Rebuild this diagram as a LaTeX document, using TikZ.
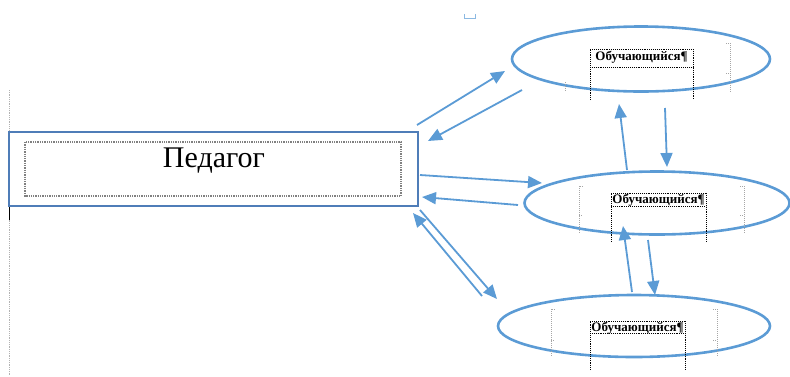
\documentclass[tikz,border=0pt]{standalone}
\usepackage{fontspec}
\setmainfont{Liberation Serif}
\usetikzlibrary{arrows.meta,shapes.geometric}
\definecolor{ablue}{HTML}{5B9BD5}
\definecolor{rblue}{HTML}{4F7DB8}
\begin{document}
\begin{tikzpicture}[x=1pt,y=-1pt,
 conn/.style={draw=ablue, line width=1.8pt, -{Triangle[length=14pt,width=12pt]}},
 oval/.style={ellipse, draw=ablue, line width=2.6pt, inner sep=0pt},
 lbl/.style={font=\bfseries\fontsize{13}{14}\selectfont, inner sep=0.5pt},
 dotbox/.style={draw=black, densely dotted, line width=0.9pt},
 brk/.style={draw=gray!70, densely dotted, line width=1pt}]
\useasboundingbox (0,0) rectangle (790,376);
% left margin line
\draw[gray!60, densely dotted, line width=0.8pt] (9.5,90) -- (9.5,376);
\draw[brown!70!black, line width=1.5pt] (9.5,187) -- (9.5,207);
\draw[black, line width=1.5pt] (9.5,207) -- (9.5,220);
% small mark
\draw[ablue!70, line width=1pt] (464,14) -- (464,18) -- (475,18) -- (475,14);
% teacher box
\node[draw=rblue, line width=2pt, minimum width=409pt, minimum height=74pt, inner sep=0pt] (ped) at (213.5,169) {};
\draw[gray, densely dotted, line width=1.3pt] (25,142) rectangle (401,196);
\node[font=\fontsize{30}{32}\selectfont, anchor=base, inner sep=0pt] (pedtxt) at (214,167.5) {Педагог};
% ellipses
\node[oval, minimum width=258pt, minimum height=65pt] (e1) at (641,59) {};
\node[oval, minimum width=265pt, minimum height=63pt] (e2) at (657,203) {};
\node[oval, minimum width=272pt, minimum height=62pt] (e3) at (634,326) {};
% label frames
\draw[dotbox] (590,100) -- (590,49) -- (693,49) -- (693,100);
\draw[dotbox] (590,67) -- (693,67);
\node[lbl, anchor=base] (l1) at (641.5,60) {Обучающийся¶};
\draw[dotbox] (611,242) -- (611,193) -- (706,193) -- (706,242);
\draw[dotbox] (611,206) -- (706,206);
\node[lbl, anchor=base] (l2) at (658.5,203) {Обучающийся¶};
\draw[dotbox] (590,370) -- (590,321) -- (685,321) -- (685,370);
\draw[dotbox] (590,333) -- (685,333);
\node[lbl, anchor=base] (l3) at (637.5,331) {Обучающийся¶};
% brackets
\draw[brk] (565,82) -- (565,92);
\draw[brk] (726,43) -- (730,43) -- (730,92);
\draw[brk] (726,73) -- (730,73);
\draw[brk] (583,186) -- (579,186) -- (579,233);
\draw[brk] (579,215) -- (583,215);
\draw[brk] (740,186) -- (744,186) -- (744,233);
\draw[brk] (740,215) -- (744,215);
\draw[brk] (555,309) -- (551,309) -- (551,357);
\draw[brk] (551,340) -- (555,340);
\draw[brk] (713,309) -- (717,309) -- (717,357);
\draw[brk] (713,340) -- (717,340);
% connector end points
\coordinate (a1s) at (417,125); \coordinate (a1e) at (505,71);
\coordinate (a2s) at (522,90);  \coordinate (a2e) at (428,141);
\coordinate (a3s) at (420,175); \coordinate (a3e) at (542,183);
\coordinate (a4s) at (518,205); \coordinate (a4e) at (422,197);
\coordinate (a5s) at (420,210); \coordinate (a5e) at (497,299);
\coordinate (a6s) at (482,296); \coordinate (a6e) at (413,213);
\coordinate (v1s) at (627,170); \coordinate (v1e) at (619,104);
\coordinate (v2s) at (665,108); \coordinate (v2e) at (667,167);
\coordinate (v3s) at (632,292); \coordinate (v3e) at (623,226);
\coordinate (v4s) at (648,240); \coordinate (v4e) at (655,295);
\draw[conn] (a1s) -- (a1e);
\draw[conn] (a2s) -- (a2e);
\draw[conn] (a3s) -- (a3e);
\draw[conn] (a4s) -- (a4e);
\draw[conn] (a5s) -- (a5e);
\draw[conn] (a6s) -- (a6e);
\draw[conn] (v1s) -- (v1e);
\draw[conn] (v2s) -- (v2e);
\draw[conn] (v3s) -- (v3e);
\draw[conn] (v4s) -- (v4e);
\end{tikzpicture}
\end{document}
